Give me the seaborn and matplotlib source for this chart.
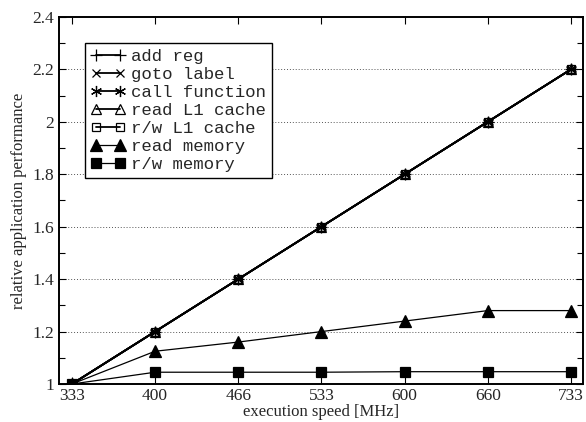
import matplotlib
matplotlib.use("Agg")
import matplotlib.pyplot as plt
import seaborn as sns
import numpy as np
from matplotlib.ticker import MultipleLocator, FormatStrFormatter

# data
speeds = ["333", "400", "466", "533", "600", "660", "733"]
add_reg = [1.0, 1.2, 1.4, 1.6, 1.8, 2.0, 2.2]
goto_label = [1.0, 1.2, 1.4, 1.6, 1.8, 2.0, 2.2]
call_function = [1.0, 1.2, 1.4, 1.6, 1.8, 2.0, 2.2]
read_l1 = [1.0, 1.2, 1.4, 1.6, 1.8, 2.0, 2.2]
rw_l1 = [1.0, 1.2, 1.4, 1.6, 1.8, 2.0, 2.2]
read_mem = [1.0, 1.125, 1.16, 1.2, 1.24, 1.28, 1.28]
rw_mem = [1.0, 1.045, 1.045, 1.045, 1.047, 1.047, 1.047]

labels = ["add reg", "goto label", "call function", "read L1 cache",
          "r/w L1 cache", "read memory", "r/w memory"]
series = [add_reg, goto_label, call_function, read_l1, rw_l1, read_mem, rw_mem]

# gnuplot-like point styles (open symbols are not filled)
styles = [
    dict(marker="+", markersize=9, markerfacecolor="black", lw=1.3),
    dict(marker="x", markersize=6, markerfacecolor="black", lw=1.3),
    dict(marker=(6, 2, 0), markersize=8, markerfacecolor="black", lw=1.3),
    dict(marker="^", markersize=6.5, markerfacecolor="none", lw=1.3),
    dict(marker="s", markersize=6, markerfacecolor="none", lw=1.3),
    dict(marker="^", markersize=8, markerfacecolor="black", lw=0.9),
    dict(marker="s", markersize=7, markerfacecolor="black", lw=0.9),
]

sns.set_style("ticks")
plt.rcParams["font.family"] = ["Liberation Serif", "DejaVu Serif"]

fig = plt.figure(figsize=(5.86, 4.22), dpi=100)
ax = fig.add_axes([0.1, 0.09, 0.895, 0.87])

xpos = np.arange(len(speeds))
for vals, lab, st in zip(series, labels, styles):
    sns.lineplot(x=xpos, y=vals, ax=ax, color="black", label=lab,
                 markeredgecolor="black", markeredgewidth=0.9, **st)

ax.set_xlim(-0.16, 6.145)
ax.set_ylim(1.0, 2.4)
ax.set_xticks(xpos)
ax.set_xticklabels(speeds)
ax.yaxis.set_major_locator(MultipleLocator(0.2))
ax.yaxis.set_minor_locator(MultipleLocator(0.1))
ax.yaxis.set_major_formatter(FormatStrFormatter("%g"))

for y in [1.2, 1.4, 1.6, 1.8, 2.0, 2.2]:
    ax.axhline(y, color="#555555", ls=(0, (1, 2)), lw=0.7, zorder=0)

ax.tick_params(axis="both", which="both", direction="in", top=True, right=True,
               labelsize=12.5, color="black", pad=3)
ax.tick_params(which="major", length=5, width=0.8)
ax.tick_params(which="minor", length=4, width=0.8)
for sp in ax.spines.values():
    sp.set_linewidth(1.4)
    sp.set_color("black")

ax.set_xlabel("execution speed [MHz]", fontsize=12, labelpad=0)
ax.set_ylabel("relative application performance", fontsize=12, labelpad=4)

leg = ax.legend(loc="upper left", bbox_to_anchor=(0.05, 0.929), numpoints=2,
                prop={"family": "Liberation Mono", "size": 12.5},
                labelspacing=0.16, handlelength=2.0, handletextpad=0.3,
                borderpad=0.35, borderaxespad=0, fancybox=False, framealpha=1)
leg.get_frame().set_edgecolor("black")
leg.get_frame().set_linewidth(1.0)

fig.savefig("out.png", dpi=100)
